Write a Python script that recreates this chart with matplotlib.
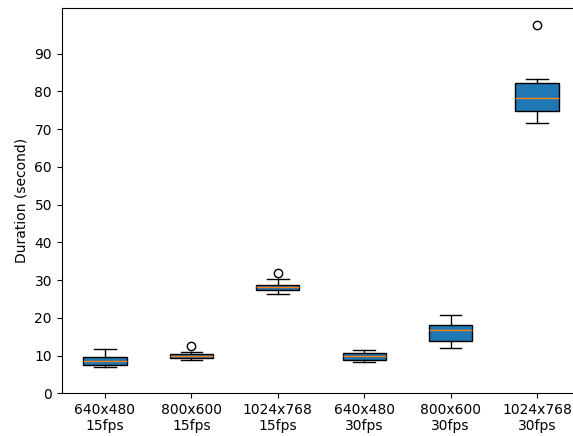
import matplotlib
matplotlib.use('Agg')
import matplotlib.pyplot as plt

# Summary statistics for each recording configuration
labels = ['640x480\n15fps', '800x600\n15fps', '1024x768\n15fps',
          '640x480\n30fps', '800x600\n30fps', '1024x768\n30fps']
whislo = [7.0, 8.7, 26.2, 8.4, 11.9, 71.5]
q1 = [7.6, 9.4, 27.3, 8.8, 13.9, 74.9]
med = [8.6, 9.9, 28.1, 9.8, 16.7, 78.2]
q3 = [9.6, 10.4, 28.8, 10.8, 18.2, 82.1]
whishi = [11.8, 11.0, 30.2, 11.5, 20.7, 83.2]
fliers = [[], [12.5], [31.8], [], [], [97.6]]

stats = []
for i in range(len(labels)):
    stats.append({'label': labels[i], 'whislo': whislo[i], 'q1': q1[i],
                  'med': med[i], 'q3': q3[i], 'whishi': whishi[i],
                  'fliers': fliers[i]})

fig = plt.figure(figsize=(5.73, 4.36), dpi=100)
# axes runs slightly past the right edge of the figure
ax = fig.add_axes([0.1077, 0.098, 0.905, 0.883])
ax.bxp(stats, patch_artist=True)

ax.set_ylim(0, 102)
ax.set_yticks(range(0, 100, 10))
ax.set_ylabel('Duration (second)')

fig.savefig('out.png', dpi=100)
